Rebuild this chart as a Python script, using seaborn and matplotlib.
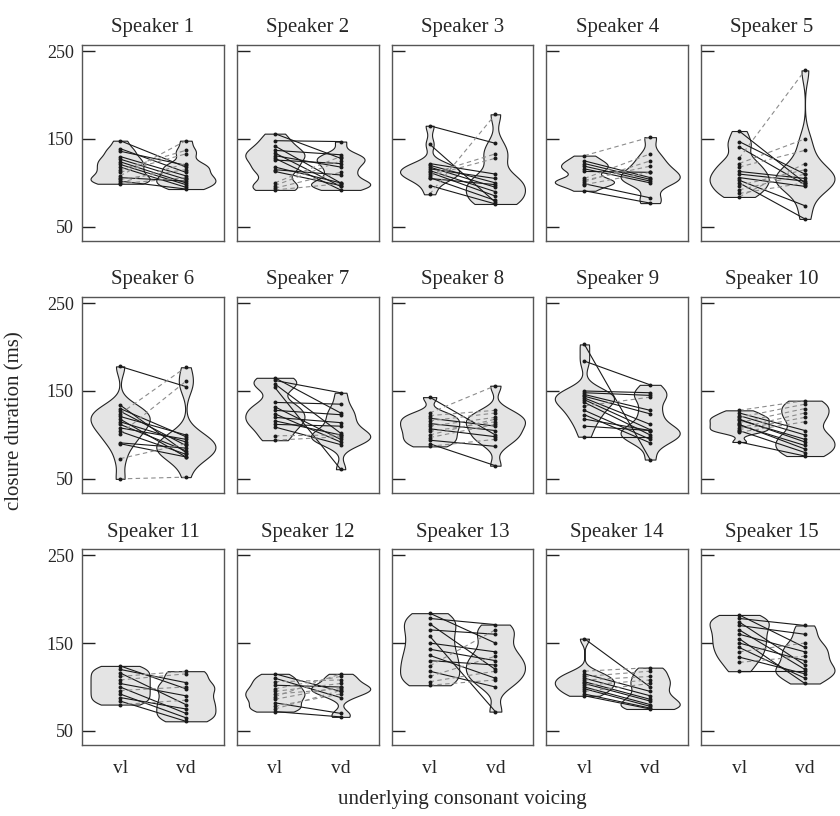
import pandas as pd
import matplotlib.pyplot as plt
import seaborn as sns

# paired closure durations (ms) per speaker: voiceless vs voiced
vl_1 = [148, 139, 136, 130, 127, 124, 121, 118, 115, 112, 108, 106, 104, 102, 100, 99]
vd_1 = [118, 112, 120, 108, 104, 100, 98, 95, 137, 133, 148, 102, 115, 93, 122, 106]
vl_2 = [156, 148, 142, 137, 134, 131, 128, 126, 118, 115, 113, 100, 97, 94, 92]
vd_2 = [128, 147, 100, 132, 96, 118, 92, 122, 100, 109, 97, 130, 125, 112, 99]
vl_3 = [165, 144, 122, 120, 118, 116, 114, 112, 110, 108, 106, 105, 97, 87]
vd_3 = [145, 78, 110, 100, 95, 105, 90, 85, 133, 128, 80, 98, 76, 178]
vl_4 = [131, 125, 122, 119, 116, 113, 105, 103, 101, 99, 98, 91]
vd_4 = [152, 106, 104, 102, 100, 112, 133, 119, 125, 83, 112, 77]
vl_5 = [159, 147, 141, 128, 122, 118, 113, 110, 106, 103, 100, 97, 92, 88, 84]
vd_5 = [100, 110, 98, 228, 150, 137, 105, 102, 96, 74, 59, 115, 110, 100, 122]
vl_6 = [178, 134, 130, 127, 124, 121, 118, 115, 112, 108, 104, 101, 91, 90, 73, 50]
vd_6 = [155, 80, 98, 88, 177, 100, 75, 92, 82, 95, 78, 161, 85, 75, 90, 52]
vl_7 = [165, 162, 158, 154, 137, 132, 128, 124, 120, 116, 112, 109, 99, 94]
vd_7 = [125, 148, 102, 61, 135, 95, 123, 92, 114, 100, 110, 89, 100, 98]
vl_8 = [143, 125, 122, 119, 116, 113, 110, 107, 104, 100, 97, 94, 90, 87]
vd_8 = [100, 156, 128, 110, 125, 105, 120, 98, 115, 118, 112, 87, 65, 95]
vl_9 = [203, 184, 150, 148, 146, 144, 142, 140, 137, 133, 128, 123, 118, 110, 98]
vd_9 = [72, 157, 148, 145, 128, 124, 112, 106, 100, 143, 95, 91, 105, 105, 98]
vl_10 = [128, 125, 122, 120, 118, 117, 114, 112, 111, 108, 106, 105, 103, 92]
vd_10 = [139, 105, 100, 135, 92, 95, 130, 84, 88, 125, 120, 80, 115, 76]
vl_11 = [124, 120, 116, 112, 108, 104, 100, 96, 92, 88, 84, 80]
vd_11 = [98, 105, 80, 118, 115, 90, 70, 100, 65, 75, 61, 85]
vl_12 = [115, 110, 106, 102, 98, 95, 92, 89, 86, 82, 78, 75, 72]
vd_12 = [95, 88, 108, 100, 112, 104, 98, 115, 100, 70, 92, 96, 66]
vl_13 = [184, 178, 172, 165, 158, 150, 143, 136, 130, 124, 118, 112, 106, 102]
vd_13 = [150, 171, 120, 160, 72, 140, 130, 110, 125, 165, 100, 135, 118, 108]
vl_14 = [155, 118, 115, 112, 110, 108, 106, 104, 102, 100, 98, 95, 92, 90]
vd_14 = [100, 122, 95, 118, 90, 112, 86, 84, 108, 80, 78, 104, 76, 75]
vl_15 = [182, 178, 174, 170, 165, 160, 155, 150, 145, 140, 134, 128, 118]
vd_15 = [145, 170, 125, 160, 120, 140, 104, 130, 110, 150, 115, 135, 118]

speakers = [f"Speaker {i}" for i in range(1, 16)]
vl_all = [vl_1, vl_2, vl_3, vl_4, vl_5, vl_6, vl_7, vl_8, vl_9, vl_10,
          vl_11, vl_12, vl_13, vl_14, vl_15]
vd_all = [vd_1, vd_2, vd_3, vd_4, vd_5, vd_6, vd_7, vd_8, vd_9, vd_10,
          vd_11, vd_12, vd_13, vd_14, vd_15]
voicing = ["vl", "vd"]
y_ticks = [50, 150, 250]

sns.set_style("ticks")
plt.rcParams['font.family'] = ['Liberation Serif', 'DejaVu Serif']

fig, axes = plt.subplots(3, 5, figsize=(8.4, 8.16), dpi=100, sharey=True)
fig.subplots_adjust(left=0.0976, right=1.0036, top=0.945, bottom=0.087,
                    wspace=0.09, hspace=0.286)

for i, ax in enumerate(axes.flat):
    vl = vl_all[i]
    vd = vd_all[i]
    df = pd.DataFrame({
        "voicing": ["vl"] * len(vl) + ["vd"] * len(vd),
        "dur": vl + vd,
    })
    sns.violinplot(data=df, x="voicing", y="dur", order=voicing, ax=ax,
                   color="#e4e4e4", linecolor="#222222", linewidth=0.8,
                   inner=None, cut=0, density_norm="width", width=0.9,
                   bw_adjust=0.6, saturation=1)
    # connect paired tokens: solid if shorter when voiced, dashed otherwise
    for a, b in zip(vl, vd):
        if b <= a:
            ax.plot([0, 1], [a, b], color="#1a1a1a", lw=0.8, zorder=3)
        else:
            ax.plot([0, 1], [a, b], color="#8c8c8c", lw=0.8, ls=(0, (4, 3)), zorder=3)
    ax.scatter([0] * len(vl), vl, s=8, color="#1a1a1a", zorder=4, linewidths=0)
    ax.scatter([1] * len(vd), vd, s=8, color="#1a1a1a", zorder=4, linewidths=0)

    ax.set_title(speakers[i], fontsize=15, pad=9)
    ax.set_xlim(-0.58, 1.58)
    ax.set_ylim(34, 257)
    ax.set_yticks(y_ticks)
    ax.set_xlabel("")
    ax.set_ylabel("")
    ax.tick_params(axis="y", direction="in", length=9, width=1, color="#222222",
                   labelsize=13, pad=6)
    ax.tick_params(axis="x", length=0, labelsize=14, pad=11)
    for s in ax.spines.values():
        s.set_color("#555555")
        s.set_linewidth(1)
    if i % 5 != 0:
        ax.tick_params(axis="y", labelleft=False)
    if i < 10:
        ax.tick_params(axis="x", labelbottom=False)

fig.text(0.018, 0.485, "closure duration (ms)", rotation=90, ha="center",
         va="center", fontsize=15)
fig.text(0.55, 0.02, "underlying consonant voicing", ha="center",
         va="center", fontsize=15)

fig.savefig("out.png", dpi=100)
